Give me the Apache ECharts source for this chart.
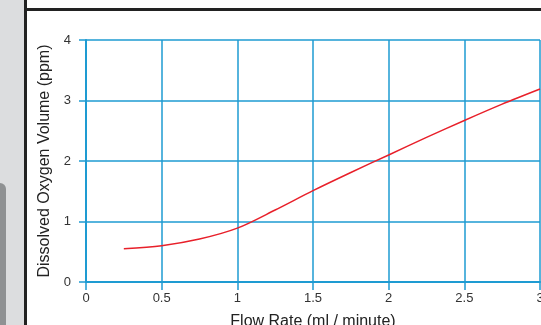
<!DOCTYPE html>
<html>
<head>
<meta charset="utf-8">
<script src="https://cdn.jsdelivr.net/npm/echarts@6/dist/echarts.min.js"></script>
<style>
  html, body { margin: 0; padding: 0; background: #fff; }
  #chart { width: 541px; height: 325px; }
</style>
</head>
<body>
<div id="chart"></div>
<script>
// flow rate (ml/min) vs dissolved oxygen (ppm)
var flowRate = [0.25, 0.5, 0.75, 1.0, 1.25, 1.5, 1.75, 2.0, 2.25, 2.5, 2.75, 3.0];
var oxygen   = [0.55, 0.60, 0.71, 0.89, 1.19, 1.51, 1.81, 2.10, 2.39, 2.67, 2.94, 3.19];

var xTitle = 'Flow Rate (ml / minute)';
var yTitle = 'Dissolved Oxygen Volume (ppm)';

var points = [];
for (var i = 0; i < flowRate.length; i++) {
    points.push([flowRate[i], oxygen[i]]);
}

var blue = '#1e9bd2';
var font = 'Liberation Sans, Arial, sans-serif';

var myChart = echarts.init(document.getElementById('chart'));
var option = {
    backgroundColor: '#fff',
    animation: false,
    grid: { left: 86, right: 1, top: 40, bottom: 43, outerBoundsMode: 'none', containLabel: false },
    graphic: [
        { type: 'rect', shape: { x: 0, y: 0, width: 24, height: 325 }, style: { fill: '#dcdddf' }, z: -10 },
        { type: 'rect', shape: { x: -10, y: 183, width: 16, height: 200, r: 6 }, style: { fill: '#8f9193' }, z: -9 },
        { type: 'rect', shape: { x: 24, y: 0, width: 3, height: 325 }, style: { fill: '#222' }, z: -8 },
        { type: 'rect', shape: { x: 24, y: 8, width: 517, height: 3 }, style: { fill: '#222' }, z: -8 }
    ],
    xAxis: {
        type: 'value',
        min: 0,
        max: 3,
        interval: 0.5,
        name: xTitle,
        nameLocation: 'middle',
        nameGap: 32,
        nameTextStyle: { fontFamily: font, fontSize: 16, color: '#222' },
        axisLine: { show: true, lineStyle: { color: blue, width: 2 } },
        axisTick: { show: true, length: 8, lineStyle: { color: blue, width: 1.5 } },
        axisLabel: { margin: 10, fontFamily: font, fontSize: 13, color: '#333' },
        splitLine: { show: true, lineStyle: { color: blue, width: 1.5 } }
    },
    yAxis: {
        type: 'value',
        min: 0,
        max: 4,
        interval: 1,
        name: yTitle,
        nameLocation: 'middle',
        nameGap: 33,
        nameTextStyle: { fontFamily: font, fontSize: 16, color: '#222' },
        axisLine: { show: true, lineStyle: { color: blue, width: 2 } },
        axisTick: { show: true, length: 7, lineStyle: { color: blue, width: 1.5 } },
        axisLabel: { margin: 15, fontFamily: font, fontSize: 13, color: '#333' },
        splitLine: { show: true, lineStyle: { color: blue, width: 1.5 } }
    },
    series: [{
        type: 'line',
        data: points,
        smooth: 0.3,
        showSymbol: false,
        lineStyle: { color: '#e8202a', width: 1.5 }
    }]
};
myChart.setOption(option);
</script>
</body>
</html>
